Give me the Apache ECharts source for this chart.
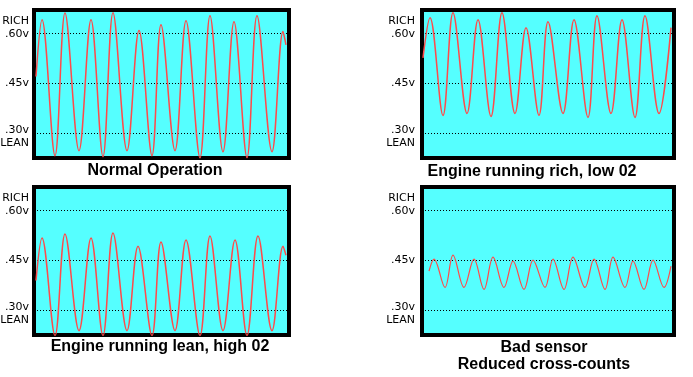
<!DOCTYPE html>
<html>
<head>
<meta charset="utf-8">
<script src="https://cdn.jsdelivr.net/npm/echarts@6/dist/echarts.min.js"></script>
<style>
  html, body { margin: 0; padding: 0; background: #fff; }
  #chart { width: 693px; height: 377px; }
</style>
</head>
<body>
<div id="chart"></div>
<script>
// sensor voltage (peaks / troughs), time in sample units
const normalTime = [2, 8, 21, 31, 45, 57, 69, 79, 93, 105, 118, 127, 141, 152, 166, 176, 189, 200, 213, 223, 238, 249, 252];
const normalVolts = [0.47, 0.641, 0.232, 0.661, 0.247, 0.641, 0.229, 0.662, 0.247, 0.608, 0.232, 0.626, 0.247, 0.638, 0.226, 0.653, 0.244, 0.635, 0.226, 0.653, 0.244, 0.605, 0.565];

const richTime = [1, 8, 21, 31, 45, 56, 69, 80, 93, 104, 117, 126, 141, 152, 166, 175, 189, 200, 213, 223, 237, 249];
const richVolts = [0.526, 0.647, 0.353, 0.662, 0.359, 0.641, 0.35, 0.662, 0.359, 0.617, 0.353, 0.635, 0.359, 0.641, 0.347, 0.653, 0.359, 0.641, 0.347, 0.653, 0.359, 0.617];

const leanTime = [2, 8, 21, 31, 45, 57, 69, 79, 93, 104, 118, 127, 141, 152, 166, 176, 189, 201, 213, 224, 238, 249, 252];
const leanVolts = [0.389, 0.517, 0.223, 0.529, 0.238, 0.517, 0.223, 0.532, 0.238, 0.492, 0.223, 0.505, 0.238, 0.511, 0.223, 0.523, 0.238, 0.511, 0.223, 0.523, 0.238, 0.492, 0.465];

const badTime = [7, 12, 23, 31, 42, 52, 62, 71, 82, 91, 102, 111, 123, 131, 142, 151, 163, 172, 183, 191, 203, 211, 222, 231, 242, 249];
const badVolts = [0.417, 0.453, 0.368, 0.465, 0.368, 0.453, 0.362, 0.459, 0.368, 0.447, 0.362, 0.45, 0.368, 0.453, 0.362, 0.459, 0.368, 0.453, 0.362, 0.459, 0.368, 0.447, 0.362, 0.45, 0.368, 0.432];

const tickValues = [0.30, 0.45, 0.60];
const tickLabels = ['.30v\nLEAN', '.45v', 'RICH\n.60v'];

const panelTitles = ['Normal Operation', 'Engine running rich, low 02', 'Engine running lean, high 02', 'Bad sensor\nReduced cross-counts'];

const panels = [
    { time: normalTime, volts: normalVolts, grid: { left: 34, top: 10, width: 255, height: 148 }, xMax: 255, width: 1.5 },
    { time: richTime, volts: richVolts, grid: { left: 422, top: 10, width: 252, height: 148 }, xMax: 252, width: 1.5 },
    { time: leanTime, volts: leanVolts, grid: { left: 34, top: 187, width: 255, height: 148 }, xMax: 255, width: 1.5 },
    { time: badTime, volts: badVolts, grid: { left: 422, top: 187, width: 252, height: 148 }, xMax: 252, width: 1.2 },
];

// centre of each caption
const titlePos = [
    { left: 155, top: 162 },
    { left: 532, top: 163 },
    { left: 160, top: 338 },
    { left: 544, top: 339 },
];

function labelFor(val) {
    const i = tickValues.findIndex((t) => Math.abs(t - val) < 1e-6);
    if (i < 0) return '';
    const txt = tickLabels[i];
    // keep the voltage line on the grid line, word above / below it
    if (txt.indexOf('RICH') === 0) return txt + '\n{sp| }';
    if (txt.indexOf('LEAN') > 0) return '{sp2| }\n' + txt;
    return txt;
}

const chart = echarts.init(document.getElementById('chart'), null, { renderer: 'canvas' });

const option = {
    backgroundColor: '#ffffff',
    animation: false,
    title: panelTitles.map((t, i) => ({
        text: t,
        left: titlePos[i].left,
        top: titlePos[i].top,
        padding: 0,
        textAlign: 'center',
        textStyle: {
            fontFamily: 'Liberation Sans',
            fontWeight: 'bold',
            fontSize: 16,
            lineHeight: 17,
            color: '#000',
        },
    })),
    grid: panels.map((p) => ({
        ...p.grid,
        outerBoundsMode: 'none',
        containLabel: false,
        show: true,
        backgroundColor: '#55ffff',
        borderColor: '#000',
        borderWidth: 4,
    })),
    xAxis: panels.map((p, i) => ({
        type: 'value',
        gridIndex: i,
        min: 0,
        max: p.xMax,
        show: false,
    })),
    yAxis: panels.map((p, i) => ({
        type: 'value',
        gridIndex: i,
        min: 0.225,
        max: 0.67,
        axisLine: { show: false },
        axisTick: { show: false, customValues: tickValues },
        axisLabel: {
            customValues: tickValues,
            margin: i % 2 === 0 ? 5 : 7,
            fontFamily: 'DejaVu Sans',
            fontSize: 11,
            lineHeight: 13,
            color: '#000',
            formatter: labelFor,
            rich: {
                sp: { lineHeight: 11, fontSize: 10 },
                sp2: { lineHeight: 7, fontSize: 7 },
            },
        },
        splitLine: {
            show: true,
            lineStyle: { color: '#000', type: [1, 2], width: 1 },
        },
    })),
    series: panels.map((p, i) => ({
        type: 'line',
        xAxisIndex: i,
        yAxisIndex: i,
        data: p.time.map((t, k) => [t, p.volts[k]]),
        smooth: 0.36,
        symbol: 'none',
        clip: true,
        lineStyle: { color: '#ff4a4a', width: p.width },
        silent: true,
    })),
};

chart.setOption(option);
</script>
</body>
</html>
